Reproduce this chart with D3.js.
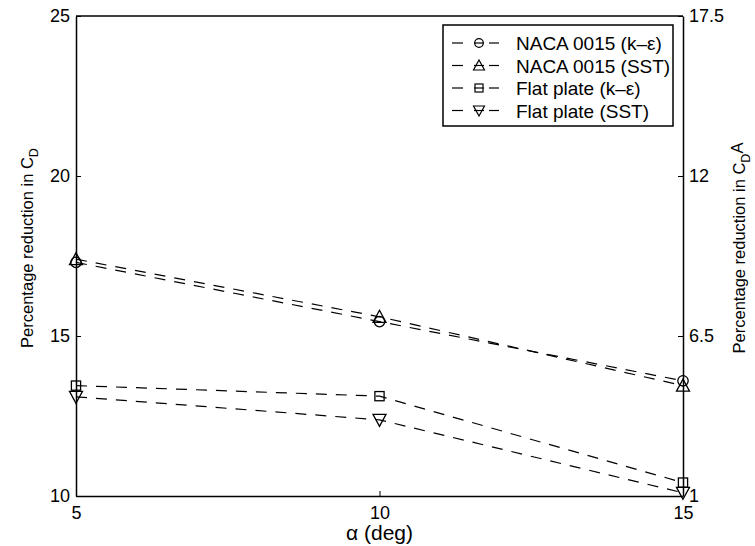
<!DOCTYPE html>
<html>
<head>
<meta charset="utf-8">
<script src="https://cdn.jsdelivr.net/npm/d3@7/dist/d3.min.js"></script>
<style>
  body { margin: 0; background: #fff; }
  svg { font-family: "Liberation Sans", Arial, Helvetica, sans-serif; }
</style>
</head>
<body>
<div id="chart"></div>
<script>
// data
const alpha = [5, 10, 15];
const nacaKe = [17.3, 15.45, 13.6];
const nacaSst = [17.4, 15.6, 13.45];
const flatKe = [13.45, 13.12, 10.42];
const flatSst = [13.1, 12.38, 10.1];
const leftTicks = [10, 15, 20, 25];
const rightTicks = [1, 6.5, 12, 17.5];
const xTicks = [5, 10, 15];

const seriesNames = ['NACA 0015 (k\u2013\u03b5)', 'NACA 0015 (SST)', 'Flat plate (k\u2013\u03b5)', 'Flat plate (SST)'];
const seriesVals = [nacaKe, nacaSst, flatKe, flatSst];
const seriesMarks = ['circle', 'up', 'square', 'down'];

let width = 755,
  height = 546;
let pLeft = 76, pRight = 683, pTop = 16, pBottom = 496;

let svg = d3.select('#chart')
  .append('svg')
  .attr('width', width)
  .attr('height', height);

let x = d3.scaleLinear().domain([5, 15]).range([pLeft, pRight]);
let yL = d3.scaleLinear().domain([10, 25]).range([pBottom, pTop]);
let yR = d3.scaleLinear().domain([1, 17.5]).range([pBottom, pTop]);

// draw a hollow marker at (cx, cy)
const marker = (g, type, cx, cy, big) => {
  let s = big ? 6.5 : 5.5;
  if (type == 'circle') {
    g.append('circle').attr('cx', cx).attr('cy', cy).attr('r', big ? 5.2 : 4.3);
  } else if (type == 'square') {
    let h = big ? 4.6 : 4;
    g.append('rect').attr('x', cx - h).attr('y', cy - h).attr('width', 2 * h).attr('height', 2 * h);
  } else if (type == 'up') {
    g.append('path').attr('d', `M${cx},${cy - s}L${cx + s},${cy + s - 1}L${cx - s},${cy + s - 1}Z`);
  } else {
    g.append('path').attr('d', `M${cx},${cy + s}L${cx + s},${cy - s + 1}L${cx - s},${cy - s + 1}Z`);
  }
};

// series
let line = d3.line().x((d, i) => x(alpha[i])).y(d => yL(d));
seriesVals.forEach((vals, k) => {
  svg.append('path')
    .attr('d', line(vals))
    .attr('fill', 'none')
    .attr('stroke', '#000')
    .attr('stroke-width', 1.2)
    .attr('stroke-dasharray', '11,9');
  let g = svg.append('g').attr('fill', 'none').attr('stroke', '#000').attr('stroke-width', 1.3);
  vals.forEach((v, i) => marker(g, seriesMarks[k], x(alpha[i]), yL(v), true));
});

// axes frame
let axisG = svg.append('g');
const tickFont = '18px';

let axL = d3.axisLeft(yL).tickValues(leftTicks).tickSizeInner(-5).tickSizeOuter(0).tickPadding(6).tickFormat(d3.format('d'));
axisG.append('g').attr('transform', `translate(${pLeft},0)`).call(axL);
let axR = d3.axisRight(yR).tickValues(rightTicks).tickSizeInner(-5).tickSizeOuter(0).tickPadding(6).tickFormat(d => d);
axisG.append('g').attr('transform', `translate(${pRight},0)`).call(axR);
let axB = d3.axisBottom(x).tickValues(xTicks).tickSizeInner(-5).tickSizeOuter(0).tickPadding(10).tickFormat(d3.format('d'));
axisG.append('g').attr('transform', `translate(0,${pBottom})`).call(axB);
axisG.append('line').attr('x1', pLeft).attr('x2', pRight).attr('y1', pTop).attr('y2', pTop);

axisG.selectAll('.domain, line').attr('stroke', '#000').attr('stroke-width', 1.5);
axisG.selectAll('.tick line').attr('stroke-width', 1);
axisG.selectAll('.tick text').attr('font-size', tickFont).attr('fill', '#000')
  .attr('font-family', '"Liberation Sans", Arial, sans-serif');

// axis labels
svg.append('text')
  .attr('x', (pLeft + pRight) / 2)
  .attr('y', 540)
  .attr('text-anchor', 'middle')
  .attr('font-size', '21px')
  .text('\u03b1 (deg)');

let ylab = svg.append('text')
  .attr('transform', `translate(33,${(pTop + pBottom) / 2 - 8}) rotate(-90)`)
  .attr('text-anchor', 'middle')
  .attr('font-size', '16.5px');
ylab.append('tspan').text('Percentage reduction in C');
ylab.append('tspan').attr('font-size', '12.5px').attr('dy', 5).text('D');

let ylab2 = svg.append('text')
  .attr('transform', `translate(745,${(pTop + pBottom) / 2 - 8}) rotate(-90)`)
  .attr('text-anchor', 'middle')
  .attr('font-size', '16.5px');
ylab2.append('tspan').text('Percentage reduction in C');
ylab2.append('tspan').attr('font-size', '12.5px').attr('dy', 5).text('D');
ylab2.append('tspan').attr('dy', -7).text('A');

// legend
let lg = svg.append('g');
lg.append('rect')
  .attr('x', 443).attr('y', 25).attr('width', 230).attr('height', 101)
  .attr('fill', '#fff').attr('stroke', '#000').attr('stroke-width', 1.5);
seriesNames.forEach((name, k) => {
  let yy = 43 + k * 22.5;
  let row = lg.append('g').attr('stroke', '#000').attr('stroke-width', 1.2).attr('fill', 'none');
  row.append('line').attr('x1', 452).attr('x2', 463).attr('y1', yy).attr('y2', yy);
  row.append('line').attr('x1', 489).attr('x2', 499).attr('y1', yy).attr('y2', yy);
  row.append('line').attr('x1', 474).attr('x2', 484).attr('y1', yy).attr('y2', yy);
  marker(row, seriesMarks[k], 479, yy, false);
  lg.append('text')
    .attr('x', 516).attr('y', yy + 7)
    .attr('font-size', '19px')
    .text(name);
});
</script>
</body>
</html>
